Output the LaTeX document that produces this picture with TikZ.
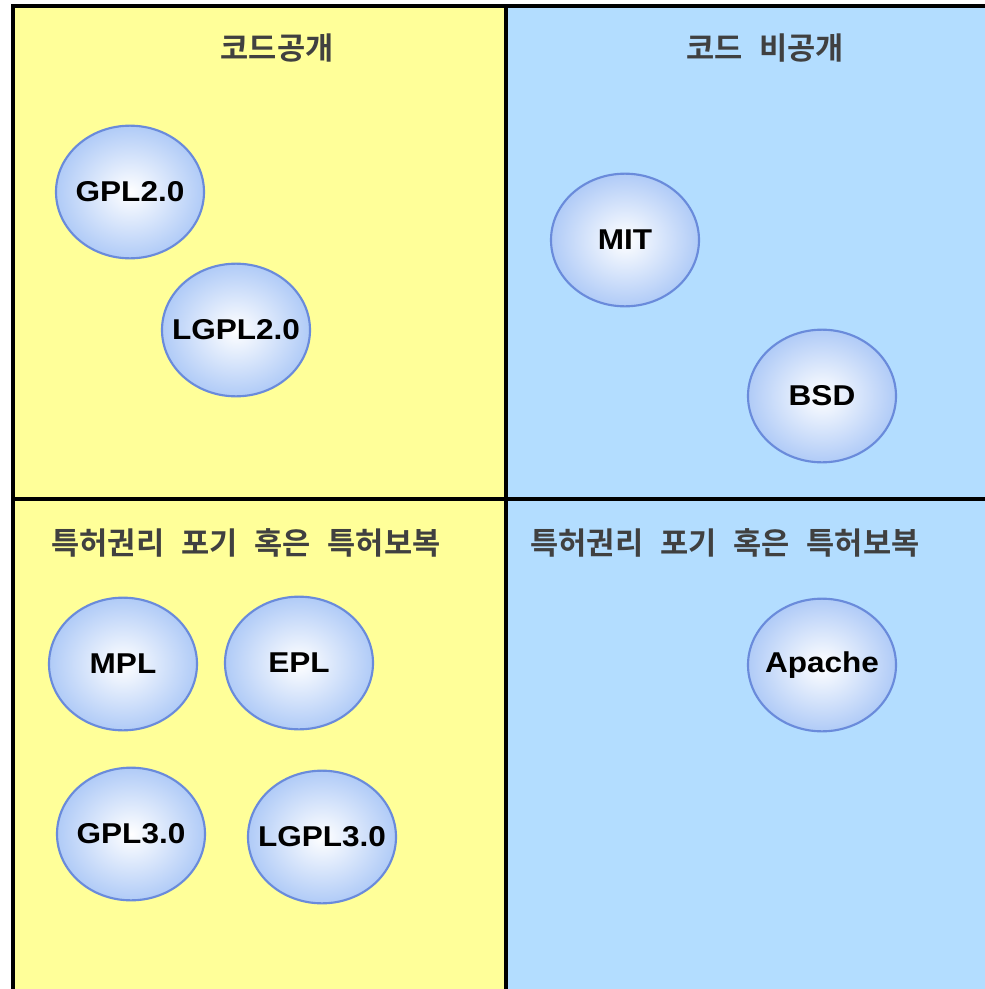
\documentclass[tikz,border=0pt]{standalone}
\usepackage{fontspec}
\usetikzlibrary{shapes.geometric}
\newfontfamily\labfont{Liberation Sans}[FakeStretch=1.1]
\newfontfamily\krfont{Noto Sans CJK KR}[BoldFont={Noto Sans CJK KR Bold}]
\definecolor{padyellow}{HTML}{FFFF99}
\definecolor{padblue}{HTML}{B3DDFF}
\definecolor{ellline}{HTML}{6A8BDB}
\definecolor{ellouter}{HTML}{B0CBF7}
\definecolor{titlegray}{HTML}{404040}
\newcommand{\lt}[1]{\makebox[0pt][c]{#1}}
\newcommand{\wsp}{\hspace{0.55em}}
\tikzset{
  lic/.style={ellipse, draw=ellline, line width=1.6pt, shading=radial,
    inner color=white, outer color=ellouter, minimum width=111pt,
    minimum height=99.5pt, inner sep=0pt,
    font=\labfont\bfseries\fontsize{21.5}{24}\selectfont, text=black},
  ttl/.style={font=\krfont\bfseries\fontsize{23}{26}\selectfont, text=titlegray, inner sep=0pt},
  frame/.style={line width=2.3pt, draw=black}
}
\begin{document}
\begin{tikzpicture}[x=0.75pt,y=-0.75pt]
\useasboundingbox (0,0) rectangle (985,989);
\fill[padyellow] (13,6) rectangle (506,989);
\fill[padblue] (506,6) rectangle (985,989);
\coordinate (tl) at (13,6);
\coordinate (tr) at (985,6);
\coordinate (bl) at (13,989);
\coordinate (mt) at (506,6);
\coordinate (mb) at (506,989);
\coordinate (ml) at (13,499);
\coordinate (mr) at (985,499);
\draw[frame] (bl) -- (tl) -- (tr);
\draw[frame] (mt) -- (mb);
\draw[frame] (ml) -- (mr);

\node[ttl] (t1) at (277,48) {코드공개};
\node[ttl] (t2) at (765,48) {코드\wsp 비공개};
\node[ttl] (t3) at (246,543) {특허권리\wsp 포기\wsp 혹은\wsp 특허보복};
\node[ttl] (t4) at (725,543) {특허권리\wsp 포기\wsp 혹은\wsp 특허보복};

\node[lic] (gpl2) at (130,192) {\lt{GPL2.0}};
\node[lic] (lgpl2) at (236,330) {\lt{LGPL2.0}};
\node[lic] (mit) at (625,240) {\lt{MIT}};
\node[lic] (bsd) at (822,396) {\lt{BSD}};
\node[lic] (mpl) at (123,664) {\lt{MPL}};
\node[lic] (epl) at (299,663) {\lt{EPL}};
\node[lic] (gpl3) at (131,834) {\lt{GPL3.0}};
\node[lic] (lgpl3) at (322,837) {\lt{LGPL3.0}};
\node[lic] (apache) at (822,665) {\lt{Apache}};
\end{tikzpicture}
\end{document}
